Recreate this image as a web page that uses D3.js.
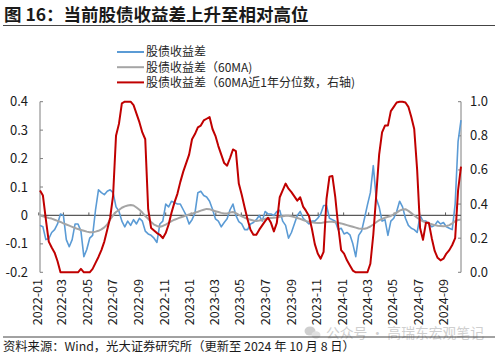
<!DOCTYPE html>
<html><head><meta charset="utf-8">
<script src="https://cdn.jsdelivr.net/npm/d3@7"></script>
<style>
html,body{margin:0;padding:0;background:#fff;}
svg{display:block;font-family:"Noto Sans CJK SC","Noto Sans",sans-serif;}
</style></head>
<body>
<svg id="chart" width="499" height="355"></svg>
<script>
// ---------- data (weekly samples from 2022-01-04 to 2024-10-08) ----------
const startDate = "2022-01-04";
const stepDays = 7;
const spread = [ // 股债收益差 (left axis)
-0.035,-0.04,-0.085,-0.082,-0.06,-0.05,-0.03,0.005,0.0,-0.085,
-0.11,-0.085,-0.03,-0.03,-0.055,-0.145,-0.12,-0.08,-0.07,0.02,
0.09,0.08,0.073,0.085,0.09,0.08,0.03,0.015,-0.02,-0.04,
-0.02,-0.035,-0.015,-0.03,-0.01,-0.02,-0.055,-0.065,-0.07,-0.08,
-0.095,-0.03,-0.02,0.04,0.03,0.05,0.045,0.04,0.04,0.02,
0.0,-0.03,-0.015,0.008,0.08,0.085,0.07,0.065,0.05,0.022,
-0.012,-0.02,-0.04,-0.025,-0.012,0.02,0.04,0.0,-0.022,-0.03,
-0.05,-0.05,-0.03,-0.025,-0.015,0.0,-0.02,0.014,0.005,0.005,
0.0,0.014,0.018,-0.02,-0.035,-0.08,-0.06,-0.03,0.0,0.014,
-0.01,-0.02,-0.03,-0.02,-0.02,-0.01,0.005,0.035,0.035,-0.01,
-0.015,-0.02,-0.05,-0.045,-0.065,-0.06,-0.068,-0.1,-0.145,-0.07,
-0.055,-0.01,0.037,0.08,0.175,0.06,0.03,-0.02,-0.015,-0.07,
-0.02,-0.01,0.014,0.05,0.03,-0.01,-0.035,-0.045,-0.05,-0.06,
0.0,-0.02,-0.02,-0.03,-0.04,-0.035,-0.02,-0.03,-0.025,-0.04,
-0.045,-0.05,0.04,0.26,0.335
];
const spreadMA = [ // 股债收益差（60MA) (left axis)
0.0,-0.003,-0.006,-0.009,-0.011,-0.015,-0.019,-0.023,-0.028,-0.032,
-0.036,-0.04,-0.044,-0.048,-0.051,-0.054,-0.057,-0.059,-0.059,-0.057,
-0.054,-0.049,-0.042,-0.032,-0.014,0.0,0.012,0.019,0.027,0.032,
0.035,0.037,0.035,0.028,0.02,0.01,-0.002,-0.012,-0.023,-0.032,
-0.037,-0.04,-0.037,-0.032,-0.026,-0.02,-0.015,-0.011,-0.007,-0.004,
0.0,0.003,0.006,0.01,0.013,0.017,0.02,0.023,0.022,0.018,
0.015,0.012,0.009,0.007,0.007,0.01,0.012,0.008,0.002,-0.003,
-0.008,-0.012,-0.015,-0.018,-0.02,-0.018,-0.015,-0.012,-0.01,-0.009,
-0.008,-0.007,-0.005,-0.003,-0.001,-0.001,-0.003,-0.006,-0.009,-0.012,
-0.016,-0.02,-0.022,-0.024,-0.026,-0.027,-0.027,-0.025,-0.023,-0.022,
-0.022,-0.024,-0.026,-0.028,-0.031,-0.034,-0.037,-0.04,-0.043,-0.046,
-0.047,-0.047,-0.044,-0.039,-0.032,-0.024,-0.017,-0.012,-0.008,-0.005,
-0.002,0.004,0.01,0.017,0.021,0.022,0.016,0.008,0.0,-0.008,
-0.015,-0.021,-0.025,-0.028,-0.031,-0.034,-0.036,-0.037,-0.038,-0.037,
-0.034,-0.028,-0.02,-0.016,-0.014
];
const spreadPct = [ // 股债收益差（60MA近1年分位数，右轴) (right axis)
0.48,0.45,0.31,0.18,0.145,0.115,0.065,0.0,0.0,0.0,
0.0,0.0,0.0,0.0,0.02,0.0,0.0,0.0,0.02,0.055,
0.09,0.13,0.18,0.25,0.32,0.45,0.80,0.87,0.99,1.0,
1.0,1.0,0.98,0.93,0.88,0.82,0.78,0.37,0.26,0.245,
0.23,0.22,0.20,0.23,0.28,0.35,0.41,0.46,0.53,0.59,
0.64,0.69,0.78,0.81,0.85,0.86,0.89,0.90,0.91,0.84,
0.80,0.74,0.69,0.64,0.625,0.67,0.72,0.71,0.52,0.455,
0.38,0.31,0.25,0.22,0.22,0.25,0.275,0.30,0.32,0.29,
0.24,0.29,0.44,0.48,0.52,0.49,0.47,0.445,0.42,0.44,
0.385,0.36,0.33,0.255,0.165,0.11,0.08,0.12,0.43,0.56,
0.565,0.44,0.27,0.13,0.11,0.07,0.04,0.01,0.0,0.0,
0.0,0.0,0.0,0.05,0.22,0.45,0.69,0.82,0.86,0.86,
0.945,0.97,0.995,1.0,1.0,0.995,0.97,0.91,0.84,0.6,
0.26,0.19,0.29,0.29,0.2,0.125,0.085,0.07,0.08,0.11,
0.13,0.16,0.2,0.48,0.62
];
const xTickLabels = ["2022-01","2022-03","2022-05","2022-07","2022-09","2022-11",
"2023-01","2023-03","2023-05","2023-07","2023-09","2023-11",
"2024-01","2024-03","2024-05","2024-07","2024-09"];
const leftTicks = [0.4,0.3,0.2,0.1,0,-0.1,-0.2];
const rightTicks = [1.0,0.8,0.6,0.4,0.2,0.0];
const seriesNames = ["股债收益差","股债收益差（60MA)","股债收益差（60MA近1年分位数，右轴)"];
const seriesColors = ["#5B9BD5","#A5A5A5","#C00000"];
const titleText = "图 16：当前股债收益差上升至相对高位";
const sourceText = "资料来源：Wind，光大证券研究所（更新至 2024 年 10 月 8 日）";
const watermarkText = "公众号 · 高瑞东宏观笔记";

// ---------- build ----------
const svg = d3.select("#chart");
const t0 = d3.timeParse("%Y-%m-%d")(startDate);
const dates = spread.map((_, i) => d3.timeDay.offset(t0, i * stepDays));
const parseMonth = d3.timeParse("%Y-%m");

const x = d3.scaleTime().domain([dates[0], dates[dates.length - 1]]).range([40, 461]);
const yL = d3.scaleLinear().domain([-0.2, 0.4]).range([272.3, 101.7]);
const yR = d3.scaleLinear().domain([0, 1]).range([272.3, 101.7]);

// title
svg.append("text").attr("x", 4).attr("y", 21).attr("font-size", 17.5)
  .attr("font-weight", "bold").attr("fill", "#1a1a1a").text(titleText);
svg.append("line").attr("x1", 3).attr("x2", 495).attr("y1", 25.5).attr("y2", 25.5)
  .attr("stroke", "#444").attr("stroke-width", 1);

// legend
const lg = svg.append("g");
seriesNames.forEach((n, i) => {
  const yy = 52 + i * 15.2;
  lg.append("line").attr("x1", 117).attr("x2", 144).attr("y1", yy).attr("y2", yy)
    .attr("stroke", seriesColors[i]).attr("stroke-width", 2);
  lg.append("text").attr("x", 146).attr("y", yy).attr("dy", "0.36em")
    .attr("font-size", 12).attr("fill", "#262626").text(n);
});

// left axis
const axL = svg.append("g");
axL.append("line").attr("x1", 40).attr("x2", 40).attr("y1", yL(0.4)).attr("y2", yL(-0.2))
  .attr("stroke", "#7f7f7f").attr("stroke-width", 1);
leftTicks.forEach(v => {
  axL.append("line").attr("x1", 40).attr("x2", 43).attr("y1", yL(v)).attr("y2", yL(v))
    .attr("stroke", "#7f7f7f").attr("stroke-width", 1);
  axL.append("text").attr("x", 28).attr("y", yL(v)).attr("dy", "0.35em")
    .attr("text-anchor", "end").attr("font-size", 13).attr("fill", "#1a1a1a")
    .text(v === 0 ? "0" : d3.format(".1f")(v).replace("−", "-"));
});

// right axis
const axR = svg.append("g");
axR.append("line").attr("x1", 461).attr("x2", 461).attr("y1", yR(1)).attr("y2", yR(0))
  .attr("stroke", "#7f7f7f").attr("stroke-width", 1);
rightTicks.forEach(v => {
  axR.append("line").attr("x1", 458).attr("x2", 461).attr("y1", yR(v)).attr("y2", yR(v))
    .attr("stroke", "#7f7f7f").attr("stroke-width", 1);
  axR.append("text").attr("x", 470).attr("y", yR(v)).attr("dy", "0.35em")
    .attr("font-size", 13).attr("fill", "#1a1a1a").text(d3.format(".1f")(v));
});

// zero line with ticks
svg.append("line").attr("x1", 40).attr("x2", 461).attr("y1", yL(0)).attr("y2", yL(0))
  .attr("stroke", "#595959").attr("stroke-width", 1.3);
xTickLabels.forEach(lbl => {
  const xx = x(parseMonth(lbl));
  svg.append("line").attr("x1", xx).attr("x2", xx).attr("y1", yL(0)).attr("y2", yL(0) - 3)
    .attr("stroke", "#595959").attr("stroke-width", 1);
  svg.append("text").attr("transform", `translate(${xx - 1.5},279) rotate(-90)`)
    .attr("text-anchor", "end").attr("dy", "0.35em").attr("font-size", 12.6)
    .attr("fill", "#1a1a1a").text(lbl);
});

// lines
const lineL = d3.line().x((d, i) => x(dates[i])).y(d => yL(d));
const lineR = d3.line().x((d, i) => x(dates[i])).y(d => yR(d));
svg.append("path").datum(spread).attr("d", lineL).attr("fill", "none")
  .attr("stroke", seriesColors[0]).attr("stroke-width", 1.6).attr("stroke-linejoin", "round");
svg.append("path").datum(spreadMA).attr("d", lineL).attr("fill", "none")
  .attr("stroke", seriesColors[1]).attr("stroke-width", 2).attr("stroke-linejoin", "round");
svg.append("path").datum(spreadPct).attr("d", lineR).attr("fill", "none")
  .attr("stroke", seriesColors[2]).attr("stroke-width", 2).attr("stroke-linejoin", "round");

// footer: watermark, rule, source
const wm = svg.append("g").attr("fill", "#cfcfcf");
wm.append("ellipse").attr("cx", 310).attr("cy", 331).attr("rx", 5.5).attr("ry", 4.5);
wm.append("ellipse").attr("cx", 316).attr("cy", 335).attr("rx", 4.5).attr("ry", 3.8)
  .attr("fill", "#e0e0e0");
wm.append("text").attr("x", 326).attr("y", 338).attr("font-size", 13.8)
  .attr("fill", "#cfcfcf").text(watermarkText);
svg.append("line").attr("x1", 3).attr("x2", 495).attr("y1", 337).attr("y2", 337)
  .attr("stroke", "#444").attr("stroke-width", 1);
svg.append("text").attr("x", 3).attr("y", 350.5).attr("font-size", 12.3)
  .attr("fill", "#1a1a1a").text(sourceText);
</script>
</body></html>
